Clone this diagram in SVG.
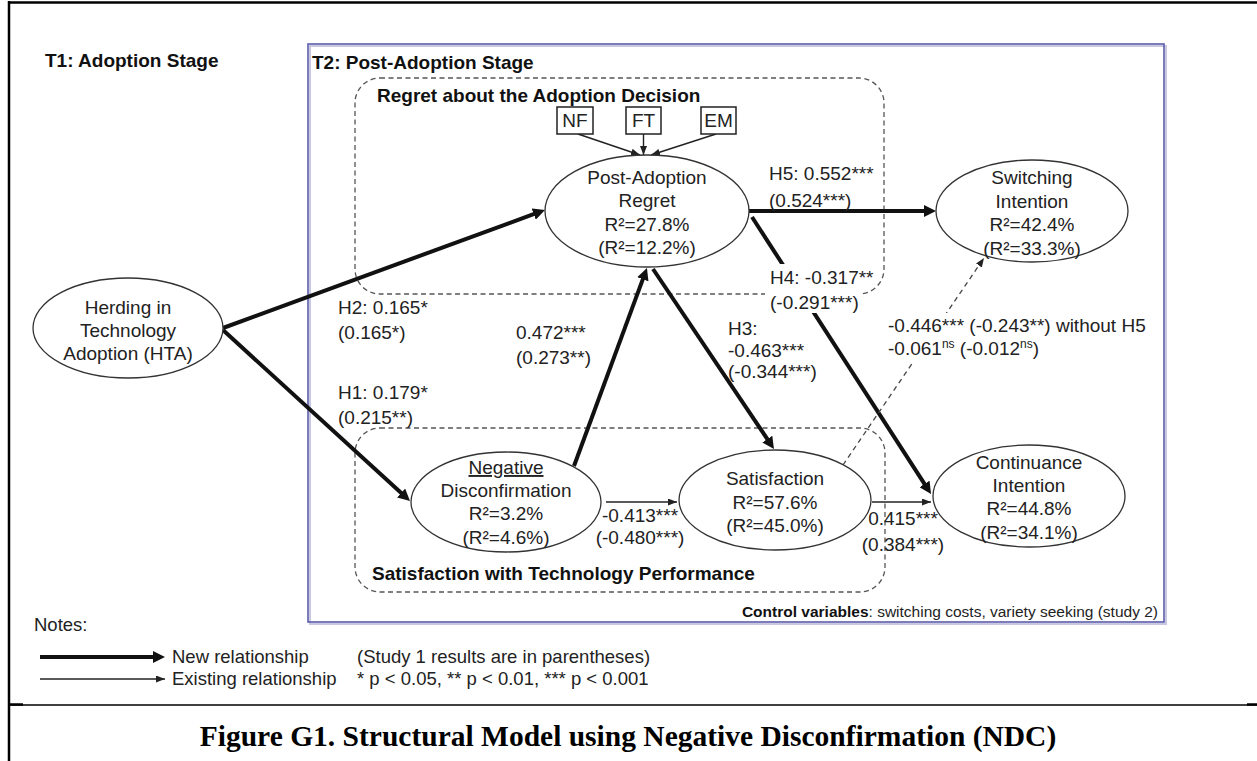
<svg xmlns="http://www.w3.org/2000/svg" width="1257" height="761" viewBox="0 0 1257 761">
<style>
.t{font-family:"Liberation Sans",Arial,Helvetica,sans-serif;font-size:19px;fill:#222}
.b{font-weight:bold;fill:#111}
.c{text-anchor:middle}
.lg{font-size:18.5px}
.el{fill:#fff;stroke:#333;stroke-width:1.3}
.dbox{fill:none;stroke:#555;stroke-width:1.3;stroke-dasharray:5 3.5}
.thick{stroke:#111;stroke-width:4;fill:none}
.thin{stroke:#222;stroke-width:1.4;fill:none}
.dash{stroke:#444;stroke-width:1.3;fill:none;stroke-dasharray:5 4}
.nb{fill:#fff;stroke:#222;stroke-width:1.5}
</style>
<defs>
<marker id="ah" markerUnits="userSpaceOnUse" markerWidth="13" markerHeight="12" refX="2" refY="6" orient="auto"><path d="M0,0 L12,6 L0,12 z" fill="#111"/></marker>
<marker id="ahs" markerUnits="userSpaceOnUse" markerWidth="10" markerHeight="8" refX="9" refY="3.5" orient="auto"><path d="M0,0 L9,3.5 L0,7 z" fill="#222"/></marker>
</defs>
<rect width="1257" height="761" fill="#fff"/>
<g id="frame">
<line x1="8" y1="2.5" x2="1257" y2="2.5" stroke="#000" stroke-width="2.5"/>
<line x1="9" y1="1" x2="9" y2="761" stroke="#000" stroke-width="2.5"/>
<line x1="9" y1="705" x2="1257" y2="705" stroke="#000" stroke-width="1.5"/>
<line x1="10" y1="704.5" x2="23" y2="704.5" stroke="#000" stroke-width="2.5"/>
<line x1="1247" y1="704.5" x2="1257" y2="704.5" stroke="#000" stroke-width="2.5"/>
</g>
<g id="t2-box">
<rect x="310" y="46" width="856" height="578" fill="none" stroke="#c8c8e2" stroke-width="2"/>
<rect x="308" y="44" width="856" height="578" fill="none" stroke="#5c5cab" stroke-width="1.6"/>
</g>
<g id="regret-group"><rect class="dbox" x="355" y="78" width="529" height="216" rx="25"/></g>
<g id="satisfaction-group"><rect class="dbox" x="355" y="428" width="530" height="164" rx="25"/></g>
<g id="stage-labels">
<text class="t b" x="45" y="67">T1: Adoption Stage</text>
<text class="t b" x="312" y="69">T2: Post-Adoption Stage</text>
<text class="t b" x="377" y="102">Regret about the Adoption Decision</text>
<text class="t b" x="372" y="580">Satisfaction with Technology Performance</text>
<text class="t" x="1158" y="617" text-anchor="end" style="font-size:15.5px"><tspan font-weight="bold" fill="#111">Control variables</tspan>: switching costs, variety seeking (study 2)</text>
</g>
<g id="connectors">
<line class="thin" x1="578" y1="134" x2="640" y2="155" marker-end="url(#ahs)"/>
<line class="thin" x1="643.5" y1="134" x2="643.5" y2="155" marker-end="url(#ahs)"/>
<line class="thin" x1="716" y1="134" x2="651" y2="155" marker-end="url(#ahs)"/>
<line class="thick" x1="223" y1="328" x2="535.6" y2="213.4" marker-end="url(#ah)"/>
<line class="thick" x1="223" y1="330" x2="402.6" y2="494.3" marker-end="url(#ah)"/>
<line class="thick" x1="574" y1="466" x2="643.5" y2="277.4" marker-end="url(#ah)"/>
<line class="thick" x1="653" y1="269" x2="768.4" y2="440.7" marker-end="url(#ah)"/>
<line class="thick" x1="749" y1="211" x2="926" y2="211" marker-end="url(#ah)"/>
<line class="thick" x1="752" y1="217" x2="925.6" y2="485.6" marker-end="url(#ah)"/>
<line class="thin" x1="606" y1="502" x2="677" y2="502" marker-end="url(#ahs)"/>
<line class="thin" x1="872" y1="502" x2="931" y2="502" marker-end="url(#ahs)"/>
<line class="dash" x1="843" y1="465" x2="984" y2="258" marker-end="url(#ahs)"/>
</g>
<g id="edge-labels">
<text class="t" x="769" y="180">H5: 0.552***</text>
<text class="t" x="769" y="207">(0.524***)</text>
<rect x="765" y="264" width="97" height="49" fill="#fff"/>
<text class="t" x="770" y="284">H4: -0.317**</text>
<text class="t" x="770" y="309">(-0.291***)</text>
<text class="t" x="338" y="314">H2: 0.165*</text>
<text class="t" x="338" y="339">(0.165*)</text>
<text class="t" x="338" y="399">H1: 0.179*</text>
<text class="t" x="338" y="424">(0.215**)</text>
<text class="t" x="516" y="339">0.472***</text>
<text class="t" x="516" y="364">(0.273**)</text>
<text class="t" x="728" y="335">H3:</text>
<text class="t" x="728" y="357">-0.463***</text>
<text class="t" x="728" y="378">(-0.344***)</text>
<rect x="884" y="313" width="272" height="49" fill="#fff"/>
<text class="t" x="888" y="332">-0.446*** (-0.243**) without H5</text>
<text class="t" x="888" y="355">-0.061<tspan font-size="12" dy="-7">ns</tspan><tspan dy="7"> (-0.012</tspan><tspan font-size="12" dy="-7">ns</tspan><tspan dy="7">)</tspan></text>
<text class="t c" x="640" y="522">-0.413***</text>
<text class="t c" x="640" y="544">(-0.480***)</text>
<text class="t c" x="903" y="525">0.415***</text>
<text class="t c" x="903" y="551">(0.384***)</text>
</g>
<g id="NF"><rect class="nb" x="557" y="107" width="36" height="27"/><text class="t c" x="575" y="127">NF</text></g>
<g id="FT"><rect class="nb" x="626" y="107" width="35" height="27"/><text class="t c" x="643.5" y="127">FT</text></g>
<g id="EM"><rect class="nb" x="701" y="107" width="35" height="27"/><text class="t c" x="718.5" y="127">EM</text></g>
<g id="herding">
<ellipse class="el" cx="128" cy="328" rx="95" ry="50"/>
<text class="t c" x="128" y="314">Herding in</text>
<text class="t c" x="128" y="337">Technology</text>
<text class="t c" x="128" y="360">Adoption (HTA)</text>
</g>
<g id="regret">
<ellipse class="el" cx="647" cy="211" rx="102" ry="56"/>
<text class="t c" x="647" y="184">Post-Adoption</text>
<text class="t c" x="647" y="207">Regret</text>
<text class="t c" x="647" y="231">R²=27.8%</text>
<text class="t c" x="647" y="254">(R²=12.2%)</text>
</g>
<g id="switching">
<ellipse class="el" cx="1032" cy="211" rx="96" ry="51"/>
<text class="t c" x="1032" y="184">Switching</text>
<text class="t c" x="1032" y="208">Intention</text>
<text class="t c" x="1032" y="231">R²=42.4%</text>
<text class="t c" x="1032" y="255">(R²=33.3%)</text>
</g>
<g id="ndc">
<ellipse class="el" cx="506" cy="502" rx="95" ry="50"/>
<text class="t c" x="506" y="474" text-decoration="underline">Negative</text>
<text class="t c" x="506" y="497">Disconfirmation</text>
<text class="t c" x="506" y="520">R²=3.2%</text>
<text class="t c" x="506" y="544">(R²=4.6%)</text>
</g>
<g id="satisfaction">
<ellipse class="el" cx="775" cy="500" rx="96" ry="50"/>
<text class="t c" x="775" y="485">Satisfaction</text>
<text class="t c" x="775" y="509">R²=57.6%</text>
<text class="t c" x="775" y="532">(R²=45.0%)</text>
</g>
<g id="continuance">
<ellipse class="el" cx="1029" cy="496" rx="96" ry="51"/>
<text class="t c" x="1029" y="469">Continuance</text>
<text class="t c" x="1029" y="492">Intention</text>
<text class="t c" x="1029" y="515">R²=44.8%</text>
<text class="t c" x="1029" y="539">(R²=34.1%)</text>
</g>
<g id="legend">
<text class="t lg" x="34" y="631">Notes:</text>
<line class="thick" x1="40" y1="657" x2="155" y2="657" marker-end="url(#ah)"/>
<line class="thin" x1="40" y1="679" x2="165" y2="679" marker-end="url(#ahs)"/>
<text class="t lg" x="172" y="663">New relationship</text>
<text class="t lg" x="172" y="685">Existing relationship</text>
<text class="t lg" x="357" y="663">(Study 1 results are in parentheses)</text>
<text class="t lg" x="357" y="685">* p &lt; 0.05, ** p &lt; 0.01, *** p &lt; 0.001</text>
</g>
<g id="caption">
<text x="628" y="746" text-anchor="middle" style="font-family:'Liberation Serif','Times New Roman',serif;font-weight:bold;font-size:29.5px;fill:#000">Figure G1. Structural Model using Negative Disconfirmation (NDC)</text>
</g>
</svg>
